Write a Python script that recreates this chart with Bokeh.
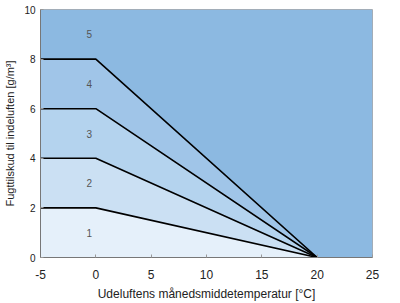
from bokeh.plotting import figure
from bokeh.models import ColumnDataSource, FixedTicker, Range1d
from bokeh.embed import file_html
from bokeh.resources import INLINE
from bokeh.core.properties import value

# Data
temps = [-5, 0, 20, 25]            # outdoor monthly mean temperature [°C]
levels = [2, 4, 6, 8]              # moisture supply at temps <= 0 °C, per class boundary
zero_temp = 20                     # moisture supply reaches 0 at this temperature
top = 10
class_labels = ["1", "2", "3", "4", "5"]
label_x = -0.6
label_y = [1, 3, 5, 7, 9]
zone_colors = ["#e5f0fa", "#cbe0f3", "#b4d3ee", "#a0c5e8", "#8cb9e1"]
x_ticks = [-5, 0, 5, 10, 15, 20, 25]
y_ticks = [0, 2, 4, 6, 8, 10]

def boundary(level):
    return [level if t <= 0 else max(0.0, level * (zero_temp - t) / zero_temp) for t in temps]

p = figure(width=400, height=303, output_backend="svg", toolbar_location=None,
           x_range=Range1d(-5, 25), y_range=Range1d(0, 10),
           min_border_left=40, min_border_right=28, min_border_top=9, min_border_bottom=45)

lows = [[0] * len(temps)] + [boundary(l) for l in levels]
highs = [boundary(l) for l in levels] + [[top] * len(temps)]
for lo, hi, c in zip(lows, highs, zone_colors):
    p.varea(x=temps, y1=lo, y2=hi, fill_color=c)

for l in levels:
    xs = [t for t in temps if t <= zero_temp]
    p.line(xs, boundary(l)[:len(xs)], line_color="black", line_width=1.6)

src = ColumnDataSource(dict(x=[label_x] * 5, y=label_y, t=class_labels))
p.text(x="x", y="y", text="t", source=src, text_align="center", text_baseline="middle",
       text_font=value("Liberation Sans"), text_font_size="10px", text_color="#555555")

p.grid.visible = False
p.outline_line_color = "#aaaaaa"
p.outline_line_width = 1
p.background_fill_color = "white"

for ax in (p.xaxis[0], p.yaxis[0]):
    ax.axis_line_color = "#777777"
    ax.major_tick_line_color = "#999999"
    ax.major_tick_in = 3
    ax.major_tick_out = 0
    ax.minor_tick_line_color = None
    ax.major_label_text_font = "Liberation Sans"
    ax.major_label_text_color = "#222222"
    ax.axis_label_text_font = "Liberation Sans"
    ax.axis_label_text_font_style = "normal"
    ax.axis_label_text_color = "#222222"

p.xaxis.ticker = FixedTicker(ticks=x_ticks)
p.xaxis.major_label_overrides = {t: str(t) for t in x_ticks}
p.xaxis.major_label_text_font_size = "12px"
p.xaxis.axis_label = "Udeluftens månedsmiddetemperatur [°C]"
p.xaxis.axis_label_text_font_size = "12px"
p.xaxis.axis_label_standoff = 5
p.xaxis.major_label_standoff = 12

p.yaxis.ticker = FixedTicker(ticks=y_ticks)
p.yaxis.major_label_text_font_size = "10px"
p.yaxis.axis_label = "Fugttilskud til indeluften [g/m³]"
p.yaxis.axis_label_text_font_size = "11px"
p.yaxis.axis_label_standoff = 5
p.yaxis.major_label_standoff = 5

open("out.html", "w").write(file_html(p, INLINE))
